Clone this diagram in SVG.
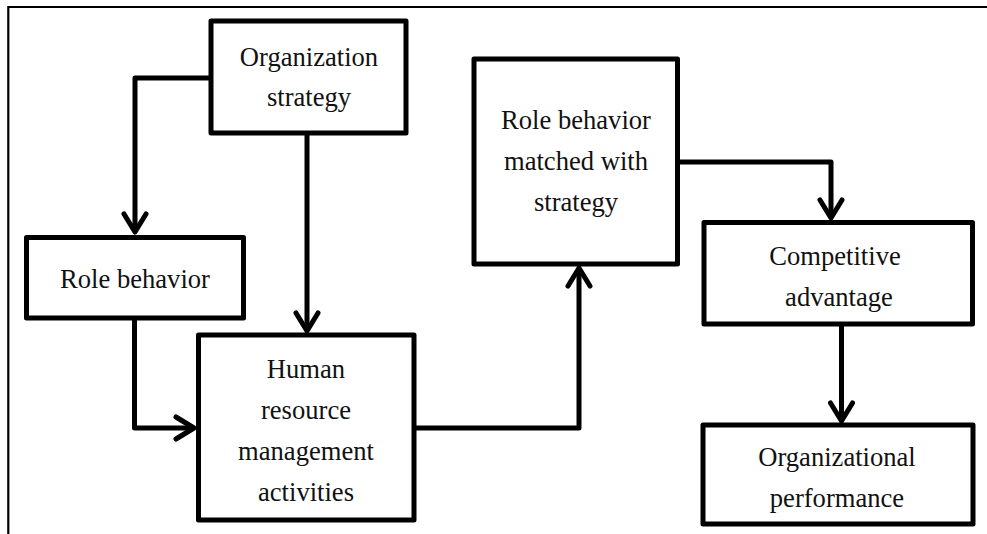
<svg xmlns="http://www.w3.org/2000/svg" width="987" height="534" viewBox="0 0 987 534">
<style>
.box{fill:#fff;stroke:#000;stroke-width:5;stroke-linejoin:round}
.lbl{font-family:"Liberation Serif","Times New Roman",serif;font-size:26.6px;fill:#111;text-anchor:middle}
.con{fill:none;stroke:#000;stroke-width:5;stroke-linejoin:round;stroke-linecap:butt}
.head{fill:none;stroke:#000;stroke-width:5;stroke-linejoin:round;stroke-linecap:round}
.frame{fill:none;stroke:#000;stroke-width:2.2}
</style>
<rect width="987" height="534" fill="#fff"/>
<path class="frame" d="M8.3 534 V7 H987"/>
<g id="connectors">
<path class="con" d="M211 78 H135 V231"/>
<polyline class="head" points="124,214 135,232 146,214"/>
<path class="con" d="M307 133 V330"/>
<polyline class="head" points="296,313 307,331 318,313"/>
<path class="con" d="M134.5 318 V428 H193"/>
<polyline class="head" points="176,417 194,428 176,439"/>
<path class="con" d="M414 428 H579 V269"/>
<polyline class="head" points="568,286 579,268 590,286"/>
<path class="con" d="M677 162 H831 V217"/>
<polyline class="head" points="820,200 831,218 842,200"/>
<path class="con" d="M841.5 324 V420"/>
<polyline class="head" points="830.5,403 841.5,421 852.5,403"/>
</g>
<g id="org-strategy">
<rect class="box" x="211" y="21" width="195" height="112"/>
<text class="lbl" x="309" y="66">Organization</text>
<text class="lbl" x="309" y="106">strategy</text>
</g>
<g id="role-behavior">
<rect class="box" x="26.5" y="237.5" width="217" height="80.5"/>
<text class="lbl" x="135" y="288">Role behavior</text>
</g>
<g id="hrm-activities">
<rect class="box" x="198.5" y="335" width="215.5" height="185"/>
<text class="lbl" x="306" y="378">Human</text>
<text class="lbl" x="306" y="419">resource</text>
<text class="lbl" x="306" y="460">management</text>
<text class="lbl" x="306" y="501">activities</text>
</g>
<g id="role-matched">
<rect class="box" x="474" y="59" width="203.5" height="205"/>
<text class="lbl" x="576" y="129">Role behavior</text>
<text class="lbl" x="576" y="170">matched with</text>
<text class="lbl" x="576" y="211">strategy</text>
</g>
<g id="competitive-advantage">
<rect class="box" x="704" y="222.5" width="268.5" height="101.5"/>
<text class="lbl" x="835" y="265">Competitive</text>
<text class="lbl" x="839" y="306">advantage</text>
</g>
<g id="org-performance">
<rect class="box" x="703" y="425" width="270" height="99"/>
<text class="lbl" x="837" y="466">Organizational</text>
<text class="lbl" x="837" y="507">performance</text>
</g>
</svg>
